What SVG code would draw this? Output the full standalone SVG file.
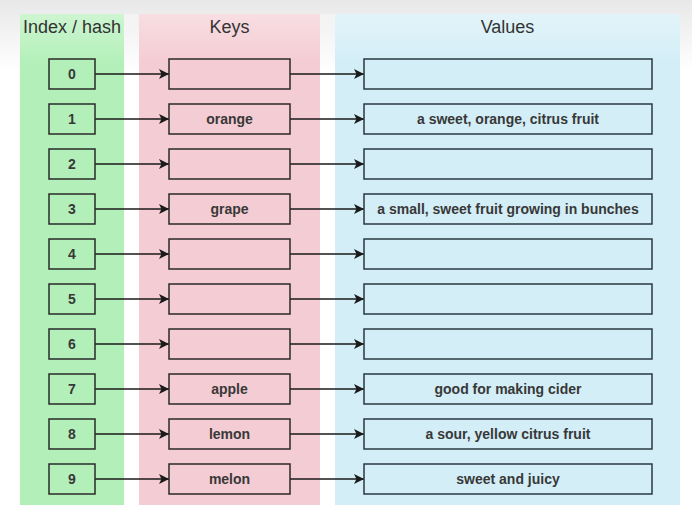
<svg xmlns="http://www.w3.org/2000/svg" width="692" height="505" viewBox="0 0 692 505">
<defs>
<linearGradient id="bg" x1="0" y1="0" x2="0" y2="1">
<stop offset="0" stop-color="#e8e8e8"/>
<stop offset="1" stop-color="#ffffff"/>
</linearGradient>
<linearGradient id="fade" x1="0" y1="0" x2="0" y2="1">
<stop offset="0" stop-color="#ffffff" stop-opacity="0.35"/>
<stop offset="1" stop-color="#ffffff" stop-opacity="0"/>
</linearGradient>
<marker id="ah" viewBox="0 0 10 10" refX="10" refY="5" markerWidth="10" markerHeight="10" markerUnits="userSpaceOnUse" orient="auto">
<path d="M0,0 L10,5 L0,10 L2.5,5 Z" fill="#1a1a1a"/>
</marker>
</defs>
<style>
.hd{font-family:"Liberation Sans",Arial,sans-serif;font-size:18px;fill:#333;text-anchor:middle}
.tx{font-family:"Liberation Sans",Arial,sans-serif;font-size:14px;font-weight:bold;fill:#383838;text-anchor:middle}
.ib{fill:#b3f0b9;stroke:#2a2a2a;stroke-width:1.5}
.kb{fill:#f4ccd3;stroke:#2a2a2a;stroke-width:1.5}
.vb{fill:#d3eef7;stroke:#2a3a40;stroke-width:1.5}
.cn line{stroke:#1a1a1a;stroke-width:1.3;marker-end:url(#ah)}
</style>
<rect x="0" y="0" width="692" height="505" fill="#fff"/>
<rect x="0" y="0" width="692" height="70" fill="url(#bg)"/>
<g id="panels">
<rect x="20" y="14" width="104" height="491" fill="#b3f0b9"/>
<rect x="139" y="14" width="181" height="491" fill="#f4ccd3"/>
<rect x="335" y="14" width="345" height="491" fill="#d3eef7"/>
<rect x="20" y="14" width="660" height="50" fill="url(#fade)"/>
<text class="hd" x="72" y="33">Index / hash</text>
<text class="hd" x="229.5" y="33">Keys</text>
<text class="hd" x="507.5" y="33">Values</text>
</g>
<g id="connectors" class="cn">
<line x1="95" y1="74" x2="169" y2="74"/><line x1="290" y1="74" x2="364" y2="74"/>
<line x1="95" y1="119" x2="169" y2="119"/><line x1="290" y1="119" x2="364" y2="119"/>
<line x1="95" y1="164" x2="169" y2="164"/><line x1="290" y1="164" x2="364" y2="164"/>
<line x1="95" y1="209" x2="169" y2="209"/><line x1="290" y1="209" x2="364" y2="209"/>
<line x1="95" y1="254" x2="169" y2="254"/><line x1="290" y1="254" x2="364" y2="254"/>
<line x1="95" y1="299" x2="169" y2="299"/><line x1="290" y1="299" x2="364" y2="299"/>
<line x1="95" y1="344" x2="169" y2="344"/><line x1="290" y1="344" x2="364" y2="344"/>
<line x1="95" y1="389" x2="169" y2="389"/><line x1="290" y1="389" x2="364" y2="389"/>
<line x1="95" y1="434" x2="169" y2="434"/><line x1="290" y1="434" x2="364" y2="434"/>
<line x1="95" y1="479" x2="169" y2="479"/><line x1="290" y1="479" x2="364" y2="479"/>
</g>
<g id="index-0"><rect class="ib" x="49" y="59" width="46" height="30"/><text class="tx" x="72" y="79">0</text></g>
<g id="index-1"><rect class="ib" x="49" y="104" width="46" height="30"/><text class="tx" x="72" y="124">1</text></g>
<g id="index-2"><rect class="ib" x="49" y="149" width="46" height="30"/><text class="tx" x="72" y="169">2</text></g>
<g id="index-3"><rect class="ib" x="49" y="194" width="46" height="30"/><text class="tx" x="72" y="214">3</text></g>
<g id="index-4"><rect class="ib" x="49" y="239" width="46" height="30"/><text class="tx" x="72" y="259">4</text></g>
<g id="index-5"><rect class="ib" x="49" y="284" width="46" height="30"/><text class="tx" x="72" y="304">5</text></g>
<g id="index-6"><rect class="ib" x="49" y="329" width="46" height="30"/><text class="tx" x="72" y="349">6</text></g>
<g id="index-7"><rect class="ib" x="49" y="374" width="46" height="30"/><text class="tx" x="72" y="394">7</text></g>
<g id="index-8"><rect class="ib" x="49" y="419" width="46" height="30"/><text class="tx" x="72" y="439">8</text></g>
<g id="index-9"><rect class="ib" x="49" y="464" width="46" height="30"/><text class="tx" x="72" y="484">9</text></g>
<g id="key-0"><rect class="kb" x="169" y="59" width="121" height="30"/></g>
<g id="key-1"><rect class="kb" x="169" y="104" width="121" height="30"/><text class="tx" x="229.5" y="124">orange</text></g>
<g id="key-2"><rect class="kb" x="169" y="149" width="121" height="30"/></g>
<g id="key-3"><rect class="kb" x="169" y="194" width="121" height="30"/><text class="tx" x="229.5" y="214">grape</text></g>
<g id="key-4"><rect class="kb" x="169" y="239" width="121" height="30"/></g>
<g id="key-5"><rect class="kb" x="169" y="284" width="121" height="30"/></g>
<g id="key-6"><rect class="kb" x="169" y="329" width="121" height="30"/></g>
<g id="key-7"><rect class="kb" x="169" y="374" width="121" height="30"/><text class="tx" x="229.5" y="394">apple</text></g>
<g id="key-8"><rect class="kb" x="169" y="419" width="121" height="30"/><text class="tx" x="229.5" y="439">lemon</text></g>
<g id="key-9"><rect class="kb" x="169" y="464" width="121" height="30"/><text class="tx" x="229.5" y="484">melon</text></g>
<g id="value-0"><rect class="vb" x="364" y="59" width="288" height="30"/></g>
<g id="value-1"><rect class="vb" x="364" y="104" width="288" height="30"/><text class="tx" x="508" y="124">a sweet, orange, citrus fruit</text></g>
<g id="value-2"><rect class="vb" x="364" y="149" width="288" height="30"/></g>
<g id="value-3"><rect class="vb" x="364" y="194" width="288" height="30"/><text class="tx" x="508" y="214">a small, sweet fruit growing in bunches</text></g>
<g id="value-4"><rect class="vb" x="364" y="239" width="288" height="30"/></g>
<g id="value-5"><rect class="vb" x="364" y="284" width="288" height="30"/></g>
<g id="value-6"><rect class="vb" x="364" y="329" width="288" height="30"/></g>
<g id="value-7"><rect class="vb" x="364" y="374" width="288" height="30"/><text class="tx" x="508" y="394">good for making cider</text></g>
<g id="value-8"><rect class="vb" x="364" y="419" width="288" height="30"/><text class="tx" x="508" y="439">a sour, yellow citrus fruit</text></g>
<g id="value-9"><rect class="vb" x="364" y="464" width="288" height="30"/><text class="tx" x="508" y="484">sweet and juicy</text></g>
</svg>
